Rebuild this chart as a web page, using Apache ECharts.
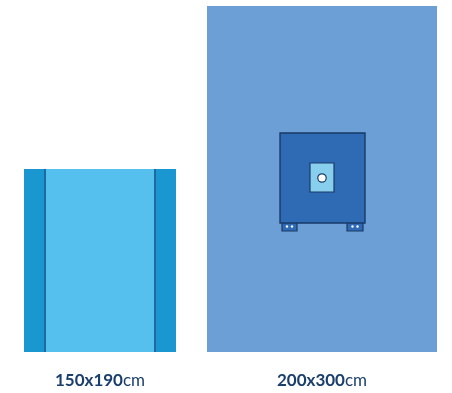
<!DOCTYPE html>
<html><head><meta charset="utf-8">
<script src="https://cdn.jsdelivr.net/npm/echarts@6/dist/echarts.min.js"></script>
<style>html,body{margin:0;padding:0;background:#fff}#c{width:452px;height:393px}</style>
</head><body><div id="c"></div>
<script>
const categories = ['150x190cm', '200x300cm'];
const widthsCm = [150, 200];
const heightsCm = [190, 300];
const labelMain = ['150x190', '200x300'];

const Y_MIN = 66.5;
function widthPx(w) { return w * 1.56 - 82; }

const chart = echarts.init(document.getElementById('c'));
const data = categories.map((c, i) => [i, heightsCm[i], widthsCm[i]]);

function renderItem(params, api) {
  const i = api.value(0), h = api.value(1), w = api.value(2);
  const top = api.coord([i, h]);
  const base = api.coord([i, Y_MIN]);
  const wp = widthPx(w);
  const x0 = top[0] - wp / 2, y0 = top[1], H = base[1] - top[1];
  const ch = [];
  if (i === 0) {
    ch.push({type: 'rect', shape: {x: x0, y: y0, width: wp, height: H}, style: {fill: '#55bfee'}});
    const sw = 21;
    ch.push({type: 'rect', shape: {x: x0, y: y0, width: sw, height: H}, style: {fill: '#1a96d0'}});
    ch.push({type: 'rect', shape: {x: x0 + wp - sw, y: y0, width: sw, height: H}, style: {fill: '#1a96d0'}});
    ch.push({type: 'rect', shape: {x: x0 + sw - 1, y: y0, width: 2, height: H}, style: {fill: '#1d6aa0'}});
    ch.push({type: 'rect', shape: {x: x0 + wp - sw - 1, y: y0, width: 2, height: H}, style: {fill: '#1d6aa0'}});
  } else {
    ch.push({type: 'rect', shape: {x: x0, y: y0, width: wp, height: H}, style: {fill: '#6b9fd6'}});
    const cx = top[0];
    const px = cx - 42, py = y0 + 127, pw = 85, ph = 90;
    [[px + 2, 15], [px + 67, 16]].forEach(([tx, tw]) => {
      ch.push({type: 'rect', shape: {x: tx, y: py + ph - 1, width: tw, height: 9}, style: {fill: '#2f6ab5', stroke: '#1a3a66', lineWidth: 1.2}});
      ch.push({type: 'circle', shape: {cx: tx + tw / 2 - 2.5, cy: py + ph + 3.5, r: 1.2}, style: {fill: '#ffffff'}});
      ch.push({type: 'circle', shape: {cx: tx + tw / 2 + 2.5, cy: py + ph + 3.5, r: 1.2}, style: {fill: '#ffffff'}});
    });
    ch.push({type: 'rect', shape: {x: px, y: py, width: pw, height: ph}, style: {fill: '#2f6ab5', stroke: '#1a3a66', lineWidth: 1.4}});
    ch.push({type: 'rect', shape: {x: cx - 12, y: py + 30, width: 24, height: 29}, style: {fill: '#88cfee', stroke: '#1a3a66', lineWidth: 1.2}});
    ch.push({type: 'circle', shape: {cx: cx, cy: py + 45, r: 4.2}, style: {fill: '#ffffff', stroke: '#1a3a66', lineWidth: 1.2}});
  }
  return {type: 'group', children: ch};
}

chart.setOption({
  animation: false,
  grid: {left: 100, right: 130, top: 6, bottom: 41},
  xAxis: {
    type: 'category', data: categories, boundaryGap: false,
    axisLine: {show: false}, axisTick: {show: false}, splitLine: {show: false},
    axisLabel: {
      margin: 20,
      formatter: (v, idx) => '{b|' + labelMain[idx] + '}{n|cm}',
      rich: {
        b: {fontFamily: 'Lato', fontWeight: 'bold', fontSize: 17, color: '#1a3f6c'},
        n: {fontFamily: 'Lato', fontWeight: 'normal', fontSize: 17, color: '#1a3f6c'}
      }
    }
  },
  yAxis: {type: 'value', min: Y_MIN, max: 300, show: false, splitLine: {show: false}},
  series: [{type: 'custom', renderItem: renderItem, data: data, clip: false, encode: {x: 0, y: 1}}]
});
</script></body></html>
